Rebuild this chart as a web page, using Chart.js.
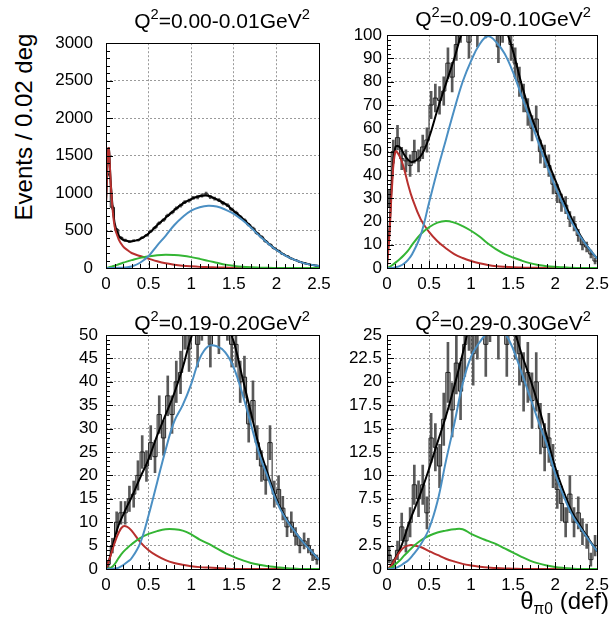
<!DOCTYPE html>
<html>
<head>
<meta charset="utf-8">
<script src="https://cdn.jsdelivr.net/npm/chart.js@4.4.1/dist/chart.umd.min.js"></script>
<style>
  body { margin: 0; background: #fff; width: 615px; height: 626px; position: relative; overflow: hidden;
         font-family: "Liberation Sans", Arial, sans-serif; }
  canvas { position: absolute; }
  .lbl { position: absolute; white-space: nowrap; color: #000; line-height: 1; }
  .ttl { font-size: 21px; transform: translate(-50%, -50%); }
  sup { font-size: 0.7em; vertical-align: 0.6em; line-height: 0; }
  sub { font-size: 0.65em; vertical-align: -0.35em; line-height: 0; }
</style>
</head>
<body>
<canvas id="p1" width="290" height="280" style="left:50px;top:20px"></canvas>
<canvas id="p2" width="285" height="280" style="left:330px;top:20px"></canvas>
<canvas id="p3" width="290" height="300" style="left:50px;top:300px"></canvas>
<canvas id="p4" width="285" height="300" style="left:330px;top:300px"></canvas>

<div class="lbl ttl" style="left:222px;top:20px">Q<sup>2</sup>=0.00-0.01GeV<sup>2</sup></div>
<div class="lbl ttl" style="left:503px;top:18px">Q<sup>2</sup>=0.09-0.10GeV<sup>2</sup></div>
<div class="lbl ttl" style="left:222px;top:322px">Q<sup>2</sup>=0.19-0.20GeV<sup>2</sup></div>
<div class="lbl ttl" style="left:503px;top:322px">Q<sup>2</sup>=0.29-0.30GeV<sup>2</sup></div>
<div class="lbl" style="left:24px;top:127px;font-size:24px;transform:translate(-50%,-50%) rotate(-90deg)">Events / 0.02 deg</div>
<div class="lbl" style="right:6px;top:589px;font-size:24px">θ<sub>π0</sub> (def)</div>

<script>
// histogram binning (bins of 0.05 from 0 to 2.5)
const binWidth = 0.05;
// x positions where the fit curves are sampled
const curveX = [0, 0.03, 0.06, 0.1, 0.15, 0.2, 0.25, 0.3, 0.4, 0.5, 0.6, 0.7, 0.8, 0.9, 1.0,
                1.1, 1.2, 1.3, 1.4, 1.5, 1.6, 1.7, 1.8, 1.9, 2.0, 2.1, 2.2, 2.3, 2.4, 2.5];
const xTicks = { min: 0, max: 2.5, step: 0.5 };

// Q2 = 0.00-0.01
const hist1 = [1250, 810, 515, 405, 372, 352, 365, 370, 405, 436, 492, 538, 600, 640, 702, 740, 795, 832, 880, 900,
               935, 945, 968, 990, 948, 925, 905, 862, 840, 780, 740, 682, 640, 578, 530, 462, 415, 356, 312, 262,
               228, 186, 160, 126, 107, 82, 68, 50, 41, 29];
const red1   = [870, 1600, 1050, 560, 380, 290, 240, 200, 160, 125, 90, 62, 44, 31, 22, 15, 11, 8, 6, 4, 3, 2, 1, 1, 0, 0, 0, 0, 0, 0];
const green1 = [0, 8, 17, 30, 50, 70, 88, 105, 135, 155, 170, 176, 172, 162, 145, 122, 95, 70, 45, 28, 16, 9, 5, 2, 1, 0, 0, 0, 0, 0];
const blue1  = [0, 0, 0, 0, 2, 5, 10, 20, 70, 160, 300, 430, 570, 680, 765, 810, 830, 820, 780, 722, 640, 540, 430, 330, 240, 170, 115, 72, 45, 26];
const total1 = [870, 1600, 1070, 610, 430, 375, 360, 355, 385, 460, 570, 670, 770, 860, 920, 960, 965, 915, 855, 760, 665, 555, 440, 335, 245, 172, 116, 73, 45, 26];

// Q2 = 0.09-0.10
const hist2 = [30, 50, 56, 47, 46, 44, 50, 46, 52, 55, 70, 73, 72, 76, 88, 82, 96, 104, 112, 97,
               108, 102, 112, 106, 120, 110, 95, 104, 112, 96, 88, 80, 73, 67, 60, 64, 50, 48, 44, 36,
               32, 28, 27, 21, 19, 14, 10, 9, 6, 3];
const red2   = [0, 15, 35, 50, 48, 43, 36, 30, 21, 15.5, 11.5, 8.5, 6, 4.3, 3, 2, 1.3, 0.8, 0.5, 0.3, 0.2, 0.1, 0.1, 0, 0, 0, 0, 0, 0, 0];
const green2 = [0, 0.5, 1.2, 2.3, 3.8, 5.5, 7.5, 10, 14.5, 17.5, 19.5, 20.2, 19.5, 18, 16, 13.5, 10.5, 8, 6, 4.5, 3.2, 2.1, 1.3, 0.8, 0.5, 0.3, 0.1, 0, 0, 0];
const blue2  = [0, 0, 0, 0.3, 0.8, 1.8, 3.5, 6, 14, 28, 42, 55, 68, 80, 89, 96, 99.5, 97, 92, 84, 74, 64, 54, 44, 35, 27, 19.5, 13.5, 8.5, 4];
const total2 = [3, 17, 38, 52, 52, 49, 46.5, 45.5, 48, 56, 68, 79, 90, 102, 110, 115, 116, 112, 104, 93, 79, 67, 57, 47, 38, 29, 21, 14, 8.5, 4];

// Q2 = 0.19-0.20
const hist3 = [1, 5, 10, 12, 12, 15, 16, 20, 25, 22, 27, 24, 33, 28, 37, 33, 40, 42, 52, 47,
               58, 48, 54, 60, 48, 56, 51, 62, 54, 48, 48, 40, 41, 31, 36, 27, 22, 19, 27, 16,
               17, 13, 9, 10, 7, 5, 6, 5, 3, 2];
const red3   = [0, 1.5, 3.2, 5.5, 7.8, 9.1, 9.0, 8.2, 5.8, 4.0, 2.8, 1.9, 1.3, 0.9, 0.6, 0.4, 0.3, 0.2, 0.1, 0, 0, 0, 0, 0, 0, 0, 0, 0, 0, 0];
const green3 = [0, 0.1, 0.3, 1.0, 2.4, 3.6, 4.5, 5.3, 6.6, 7.5, 8.1, 8.5, 8.5, 8.2, 7.4, 6.3, 5.4, 4.4, 3.4, 2.6, 1.9, 1.3, 0.9, 0.6, 0.4, 0.2, 0.1, 0, 0, 0];
const blue3  = [0, 0, 0, 0.1, 0.3, 0.8, 1.5, 2.3, 5.5, 11.5, 18.5, 25.5, 31.5, 35, 39.5, 45, 47.6, 47.6, 46.3, 43, 37.5, 31, 24.5, 19.5, 14.5, 11, 8.4, 6, 4, 2];
const total3 = [0, 1.5, 3.5, 6.5, 9.5, 11.5, 13.5, 15.3, 19.5, 23.5, 28.5, 33, 37.5, 43, 49.5, 54, 56, 55.5, 53, 48.5, 41, 33.5, 26, 20.3, 15, 11.2, 8.5, 6, 4, 2];

// Q2 = 0.29-0.30
const hist4 = [1.5, 0.5, 2, 4.5, 3, 5, 9, 7.5, 9, 6, 14, 13, 11, 16, 21, 17, 22, 19, 24, 27,
               23, 26, 30, 24, 28, 33, 26, 30, 24, 31, 26, 23, 20, 21, 18, 20, 15, 13, 14, 11,
               8.5, 7, 5, 8, 5, 6, 4, 3.5, 1, 2.5];
const red4   = [0, 0.2, 0.5, 1.1, 1.8, 2.3, 2.5, 2.55, 2.35, 1.9, 1.5, 1.1, 0.8, 0.55, 0.38, 0.25, 0.15, 0.1, 0.06, 0.03, 0, 0, 0, 0, 0, 0, 0, 0, 0, 0];
const green4 = [0, 0.05, 0.2, 0.5, 0.9, 1.4, 1.85, 2.3, 3.05, 3.55, 3.9, 4.1, 4.25, 4.25, 3.75, 3.35, 3.0, 2.65, 2.2, 1.75, 1.3, 0.9, 0.6, 0.38, 0.22, 0.12, 0.05, 0, 0, 0];
const blue4  = [0, 0, 0, 0.1, 0.3, 0.6, 0.9, 1.4, 2.6, 4.3, 7.2, 11.5, 15.5, 19.8, 22.7, 24.2, 25.3, 25.8, 25.2, 23.5, 21, 18.4, 15.8, 13.3, 10.2, 7.8, 5.8, 4.4, 3.1, 1.9];
const total4 = [0, 0.1, 0.5, 1.2, 2.0, 3.2, 4.6, 5.8, 8.1, 10.7, 13.5, 16.3, 19.5, 23, 26.5, 28, 28.8, 28.8, 27.8, 25.8, 23, 20.4, 17.5, 14.2, 10.9, 8.3, 6.1, 4.6, 3.2, 1.9];

// y axis ranges
const yMax  = [3000, 100, 50, 25];
const yStep = [500, 10, 5, 2.5];

// error bar size relative to sqrt(N) (histograms are weighted)
const errScale = 0.7;

const RED = '#b8302e', GREEN = '#34b534', BLUE = '#4b8fc3';
const FONT = 'Liberation Sans, Arial, sans-serif';

// ROOT-like frame with inward tick marks
const framePlugin = {
  id: 'frame',
  afterDraw(chart) {
    const { ctx, chartArea: a, scales: { x, y } } = chart;
    ctx.save();
    ctx.strokeStyle = '#000';
    ctx.lineWidth = 1;
    ctx.beginPath();
    const nx = Math.round((x.max - x.min) / (xTicks.step / 5));
    for (let i = 0; i <= nx; i++) {
      const px = Math.round(x.getPixelForValue(x.min + i * xTicks.step / 5)) + 0.5;
      const len = i % 5 === 0 ? 7 : 4;
      ctx.moveTo(px, a.bottom);
      ctx.lineTo(px, a.bottom - len);
    }
    const step = chart.options.scales.y.ticks.stepSize;
    const ny = Math.round((y.max - y.min) / (step / 5));
    for (let i = 0; i <= ny; i++) {
      const py = Math.round(y.getPixelForValue(y.min + i * step / 5)) + 0.5;
      const len = i % 5 === 0 ? 7 : 4;
      ctx.moveTo(a.left, py);
      ctx.lineTo(a.left + len, py);
    }
    ctx.stroke();
    ctx.strokeRect(Math.round(a.left) + 0.5, Math.round(a.top) + 0.5,
                   Math.round(a.right - a.left), Math.round(a.bottom - a.top));
    ctx.restore();
  }
};

function curve(values) {
  return values.map((v, i) => ({ x: curveX[i], y: v }));
}

function makePanel(id, idx, hist, red, green, blue, total, box) {
  const steps = hist.map((v, i) => ({ x: i * binWidth, y: v }));
  steps.push({ x: hist.length * binWidth, y: hist[hist.length - 1] });
  const errors = hist.map((v, i) => ({
    x: (i + 0.5) * binWidth,
    y: [v - errScale * Math.sqrt(v), v + errScale * Math.sqrt(v)]
  }));
  const line = (data, color, order) => ({
    type: 'line', data, borderColor: color, borderWidth: 2, pointRadius: 0,
    fill: false, tension: 0.4, order
  });

  new Chart(document.getElementById(id), {
    type: 'line',
    data: {
      datasets: [
        line(curve(blue), BLUE, 1),
        line(curve(green), GREEN, 2),
        line(curve(red), RED, 3),
        line(curve(total), '#000', 4),
        { type: 'line', data: steps, stepped: true, borderColor: '#222', borderWidth: 1,
          pointRadius: 0, fill: false, order: 5 },
        { type: 'bar', data: errors, backgroundColor: 'rgba(60,60,60,0.85)', barThickness: 2,
          borderWidth: 0, order: 6 }
      ]
    },
    options: {
      responsive: false,
      animation: false,
      layout: { padding: { left: 0, top: box.top, right: box.right, bottom: 0 } },
      plugins: { legend: { display: false }, tooltip: { enabled: false } },
      scales: {
        x: {
          type: 'linear', min: xTicks.min, max: xTicks.max, offset: false,
          afterFit: s => { s.height = box.xh; },
          ticks: { stepSize: xTicks.step, autoSkip: false, maxRotation: 0, padding: 6,
                   color: '#000', font: { family: FONT, size: 17 }, callback: v => String(v) },
          grid: { color: '#9a9a9a', drawTicks: false, offset: false },
          border: { display: false, dash: [2, 2] }
        },
        y: {
          type: 'linear', min: 0, max: yMax[idx],
          afterFit: s => { s.width = box.yw; },
          ticks: { stepSize: yStep[idx], autoSkip: false, padding: box.ypad,
                   color: '#000', font: { family: FONT, size: 17 }, callback: v => String(v) },
          grid: { color: '#9a9a9a', drawTicks: false },
          border: { display: false, dash: [2, 2] }
        }
      }
    },
    plugins: [framePlugin]
  });
}

makePanel('p1', 0, hist1, red1, green1, blue1, total1, { top: 13, right: 21, xh: 32, yw: 56, ypad: 13 });
makePanel('p2', 1, hist2, red2, green2, blue2, total2, { top: 13, right: 13, xh: 32, yw: 57, ypad: 5 });
makePanel('p3', 2, hist3, red3, green3, blue3, total3, { top: 35, right: 21, xh: 31, yw: 56, ypad: 8 });
makePanel('p4', 3, hist4, red4, green4, blue4, total4, { top: 35, right: 13, xh: 31, yw: 57, ypad: 5 });
</script>
</body>
</html>
